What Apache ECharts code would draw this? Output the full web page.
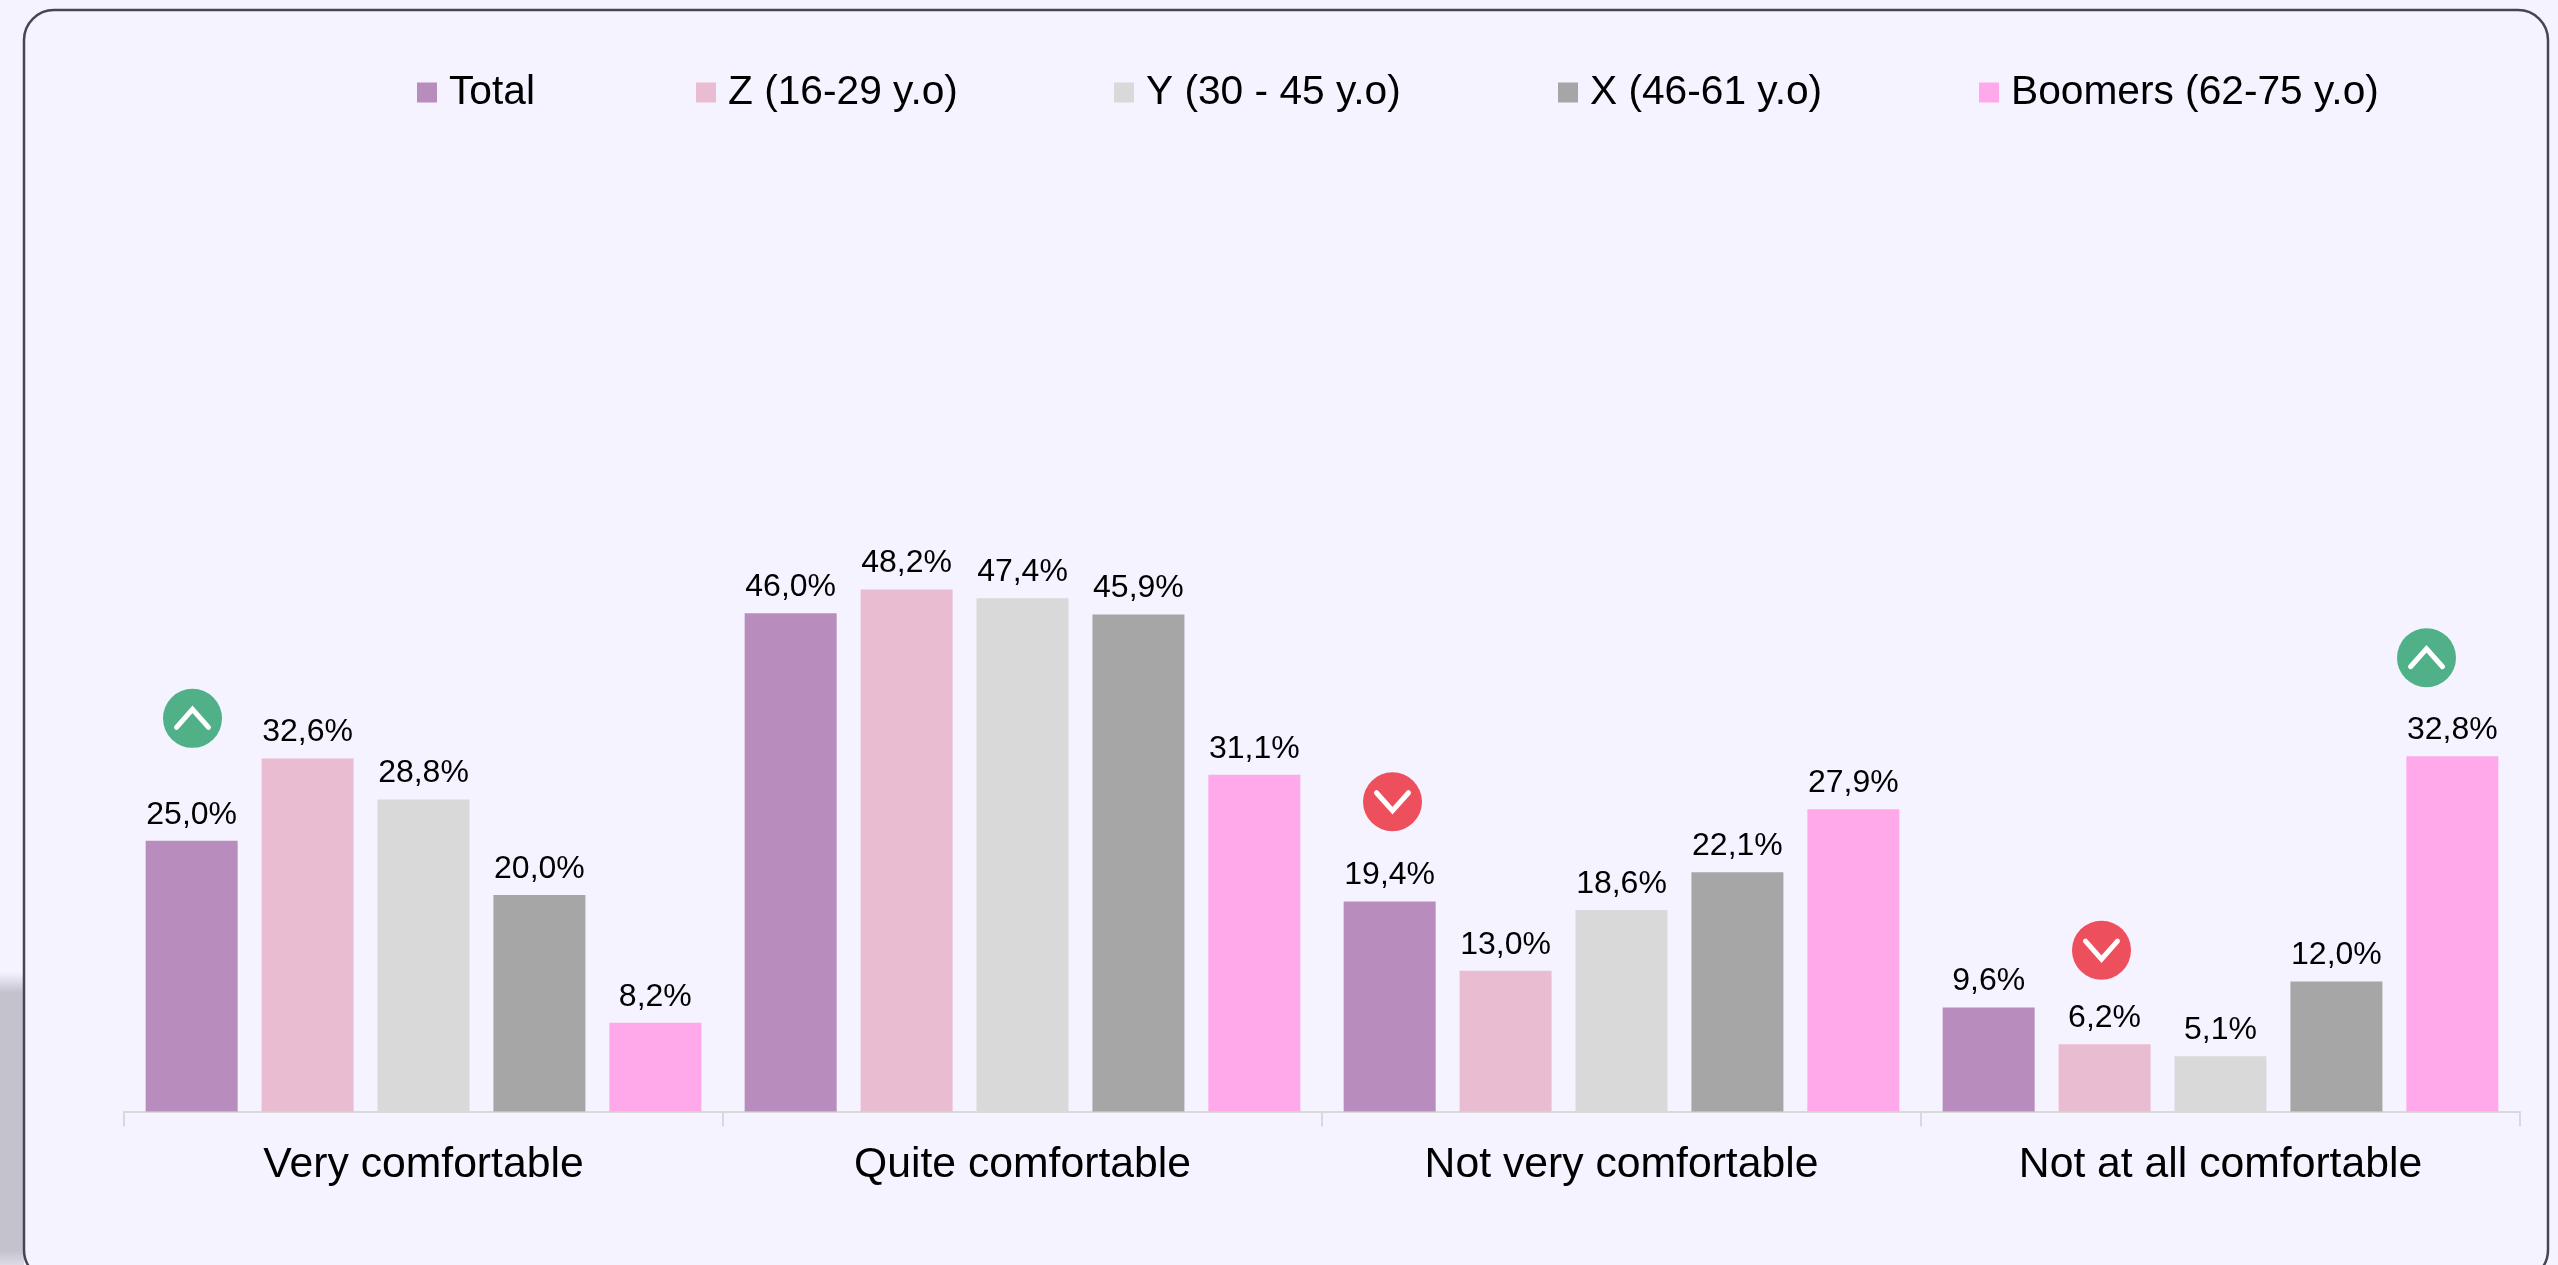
<!DOCTYPE html>
<html>
<head>
<meta charset="utf-8">
<style>
  html, body { margin: 0; padding: 0; background: #f5f3ff; }
  #chart { width: 2558px; height: 1265px; }
</style>
<script src="https://cdn.jsdelivr.net/npm/echarts@6/dist/echarts.min.js"></script>
</head>
<body>
<div id="chart"></div>
<script>
const categories = ['Very comfortable', 'Quite comfortable', 'Not very comfortable', 'Not at all comfortable'];
const seriesNames = ['Total', 'Z (16-29 y.o)', 'Y (30 - 45 y.o)', 'X (46-61 y.o)', 'Boomers (62-75 y.o)'];
const total = [25.0, 46.0, 19.4, 9.6];
const genZ = [32.6, 48.2, 13.0, 6.2];
const genY = [28.8, 47.4, 18.6, 5.1];
const genX = [20.0, 45.9, 22.1, 12.0];
const boomers = [8.2, 31.1, 27.9, 32.8];
const seriesValues = [total, genZ, genY, genX, boomers];
const seriesColors = ['#b98cbe', '#eabcd1', '#d9d9d9', '#a6a6a6', '#ffa9ea'];
const legendLefts = [417, 696, 1114, 1558, 1979];

// up / down badges: category index, height on the value axis, pixels off the category centre
const badgeCategory = [0, 2, 3, 3];
const badgeHeight = [36.3, 28.6, 14.9, 41.9];
const badgeOffset = [-231, -229, -119, 206];
const badgeKind = ['up', 'down', 'down', 'up'];

const BADGE_COLORS = {up: '#50b189', down: '#ee4f5c'};
const LABEL_FONT = 'Liberation Sans';

function renderBadge(params, api) {
  const centre = api.coord([api.value(0), api.value(1)]);
  const cx = centre[0] + api.value(2);
  const cy = centre[1];
  const kind = badgeKind[params.dataIndex];
  const dy = kind === 'up' ? -9 : 9;
  return {
    type: 'group',
    children: [
      {type: 'circle', shape: {cx: cx, cy: cy, r: 29.5}, style: {fill: BADGE_COLORS[kind]}},
      {
        type: 'polyline',
        shape: {points: [[cx - 16, cy - dy], [cx, cy + dy], [cx + 16, cy - dy]]},
        style: {stroke: '#ffffff', fill: null, lineWidth: 5, lineCap: 'round', lineJoin: 'miter'}
      }
    ]
  };
}

const barSeries = seriesNames.map(function(name, i) {
  return {
    name: name,
    type: 'bar',
    data: seriesValues[i],
    barWidth: 92,
    barGap: '26%',
    itemStyle: {color: seriesColors[i]},
    label: {
      show: true,
      position: 'top',
      distance: 10,
      color: '#000000',
      fontFamily: LABEL_FONT,
      fontSize: 32,
      formatter: function(p) { return p.value.toFixed(1).replace('.', ',') + '%'; }
    }
  };
});

const legends = seriesNames.map(function(name, i) {
  return {
    data: [{name: name, icon: 'rect'}],
    left: legendLefts[i],
    top: 72,
    itemWidth: 20,
    itemHeight: 20,
    padding: 0,
    textStyle: {color: '#000000', fontFamily: LABEL_FONT, fontSize: 40.7, padding: [0, 0, 0, 7]}
  };
});

const chart = echarts.init(document.getElementById('chart'), null, {renderer: 'canvas'});
chart.setOption({
  animation: false,
  backgroundColor: '#f5f3ff',
  legend: legends,
  grid: {left: 124, right: 38, top: 28.5, height: 1083, containLabel: false},
  xAxis: {
    type: 'category',
    data: categories,
    axisLine: {lineStyle: {color: '#d9d9d9', width: 2}},
    axisTick: {show: true, length: 15, lineStyle: {color: '#d9d9d9', width: 2}},
    axisLabel: {color: '#000000', fontFamily: LABEL_FONT, fontSize: 42.7, margin: 32, interval: 0}
  },
  yAxis: {type: 'value', min: 0, max: 100, show: false},
  graphic: [
    {
      type: 'rect',
      z: -10,
      silent: true,
      shape: {x: 0, y: 972, width: 24, height: 293},
      style: {
        fill: new echarts.graphic.LinearGradient(0, 0, 0, 1, [
          {offset: 0, color: '#f5f3ff'},
          {offset: 0.07, color: '#c3c2cd'},
          {offset: 0.95, color: '#c3c2cd'},
          {offset: 1, color: '#dcdbe6'}
        ])
      }
    },
    {
      type: 'rect',
      z: -9,
      silent: true,
      shape: {x: 24, y: 10, width: 2524, height: 1270, r: 30},
      style: {fill: '#f5f3ff', stroke: '#47454d', lineWidth: 2.5}
    }
  ],
  series: barSeries.concat([{
    type: 'custom',
    silent: true,
    renderItem: renderBadge,
    encode: {x: 0, y: 1},
    data: badgeCategory.map(function(c, i) { return [c, badgeHeight[i], badgeOffset[i]]; }),
    z: 5
  }])
});
</script>
</body>
</html>
